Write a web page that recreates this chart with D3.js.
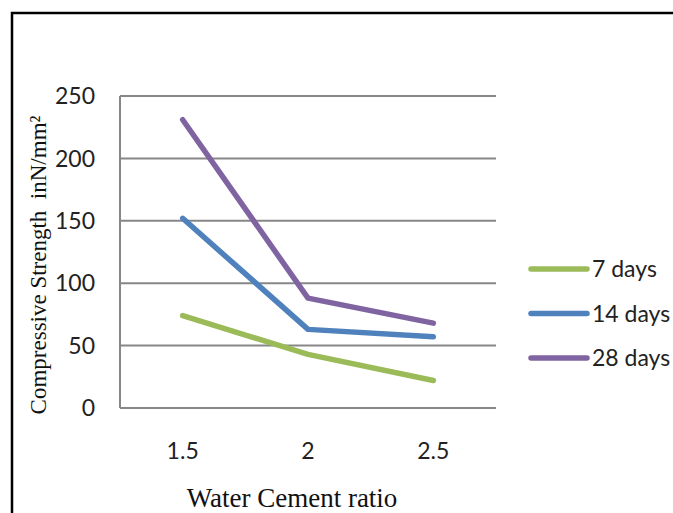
<!DOCTYPE html>
<html>
<head>
<meta charset="utf-8">
<script src="https://cdn.jsdelivr.net/npm/d3@7"></script>
<style>
  body { margin: 0; background: #fff; }
  svg { display: block; }
  .tick-label { font-family: Lato, "Open Sans", sans-serif; font-size: 23px; fill: #222; }
  .title { font-family: "Liberation Serif", "DejaVu Serif", serif; fill: #111; white-space: pre; }
</style>
</head>
<body>
<svg id="frame" width="673" height="513"></svg>
<script>
// chart values
const categories = ["1.5", "2", "2.5"];
const seriesNames = ["7 days", "14 days", "28 days"];
const days7 = [74, 43, 22];
const days14 = [152, 63, 57];
const days28 = [231, 88, 68];
const yTicks = [0, 50, 100, 150, 200, 250];
const colors = ["#9bbb59", "#4f81bd", "#8064a2"];

const series = [days7, days14, days28].map((vals, i) => ({
  name: seriesNames[i],
  color: colors[i],
  values: vals.map((v, j) => ({ cat: categories[j], v: v }))
}));

const svg = d3.select("#frame");

// outer frame (only left and top edges show)
svg.append("rect")
  .attr("x", 12).attr("y", 13)
  .attr("width", 700).attr("height", 540)
  .attr("fill", "none")
  .attr("stroke", "#000")
  .attr("stroke-width", 2.5);

const plot = { left: 120, right: 496, top: 96, bottom: 408 };

const x = d3.scaleBand().domain(categories).range([plot.left, plot.right]);
const y = d3.scaleLinear().domain([0, 250]).range([plot.bottom, plot.top]);

// gridlines
svg.append("g")
  .selectAll("line")
  .data(yTicks)
  .join("line")
  .attr("x1", plot.left).attr("x2", plot.right)
  .attr("y1", d => y(d)).attr("y2", d => y(d))
  .attr("stroke", "#878787")
  .attr("stroke-width", 2);

// vertical axis line
svg.append("line")
  .attr("x1", plot.left).attr("x2", plot.left)
  .attr("y1", y(250)).attr("y2", y(0))
  .attr("stroke", "#878787")
  .attr("stroke-width", 2);

// y tick labels
svg.append("g")
  .selectAll("text")
  .data(yTicks)
  .join("text")
  .classed("tick-label", true)
  .attr("x", 95)
  .attr("y", d => y(d))
  .attr("dy", "0.36em")
  .attr("text-anchor", "end")
  .text(d => d);

// x tick labels
svg.append("g")
  .selectAll("text")
  .data(categories)
  .join("text")
  .classed("tick-label", true)
  .attr("x", d => x(d) + x.bandwidth() / 2)
  .attr("y", 459)
  .attr("text-anchor", "middle")
  .text(d => d);

// lines
const line = d3.line()
  .x(d => x(d.cat) + x.bandwidth() / 2)
  .y(d => y(d.v));

svg.append("g")
  .selectAll("path")
  .data(series)
  .join("path")
  .attr("d", d => line(d.values))
  .attr("fill", "none")
  .attr("stroke", d => d.color)
  .attr("stroke-width", 5.5)
  .attr("stroke-linecap", "round")
  .attr("stroke-linejoin", "round");

// legend
const legend = svg.append("g")
  .selectAll("g")
  .data(series)
  .join("g")
  .attr("transform", (d, i) => `translate(531, ${269 + i * 44.5})`);

legend.append("line")
  .attr("x1", 0).attr("x2", 56)
  .attr("stroke", d => d.color)
  .attr("stroke-width", 5.5)
  .attr("stroke-linecap", "round");

legend.append("text")
  .classed("tick-label", true)
  .attr("x", 61)
  .attr("dy", "0.36em")
  .text(d => d.name);

// axis titles
svg.append("text")
  .classed("title", true)
  .attr("transform", "translate(46, 265) rotate(-90)")
  .attr("text-anchor", "middle")
  .attr("font-size", 23)
  .attr("fill", "#333")
  .text("Compressive Strength  inN/mm\u00b2");

svg.append("text")
  .classed("title", true)
  .attr("x", 292)
  .attr("y", 507)
  .attr("text-anchor", "middle")
  .attr("font-size", 27)
  .text("Water Cement ratio");
</script>
</body>
</html>
